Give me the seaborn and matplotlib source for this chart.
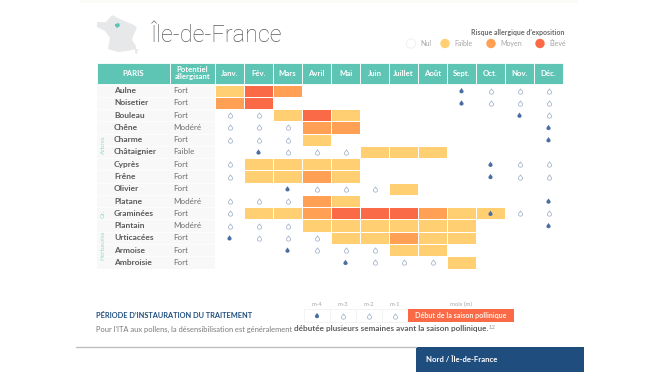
import numpy as np
import pandas as pd
import seaborn as sns
import matplotlib
matplotlib.use("Agg")
import matplotlib.pyplot as plt
from matplotlib.colors import ListedColormap
from matplotlib.patches import Rectangle, Polygon, Circle
from matplotlib.path import Path

months = ["Janv.", "Fév.", "Mars", "Avril", "Mai", "Juin", "Juillet", "Août", "Sept.", "Oct.", "Nov.", "Déc."]
species = ["Aulne", "Noisetier", "Bouleau", "Chêne", "Charme", "Châtaignier", "Cyprès", "Frêne",
           "Olivier", "Platane", "Graminées", "Plantain", "Urticacées", "Armoise", "Ambroisie"]
potentials = ["Fort", "Fort", "Fort", "Modéré", "Fort", "Faible", "Fort", "Fort",
              "Fort", "Modéré", "Fort", "Modéré", "Fort", "Fort", "Fort"]

# 0 nul, 1 faible, 2 moyen, 3 eleve
risk = [
    [1, 3, 2, 0, 0, 0, 0, 0, 0, 0, 0, 0],
    [2, 3, 0, 0, 0, 0, 0, 0, 0, 0, 0, 0],
    [0, 0, 1, 3, 1, 0, 0, 0, 0, 0, 0, 0],
    [0, 0, 0, 2, 2, 0, 0, 0, 0, 0, 0, 0],
    [0, 0, 0, 1, 0, 0, 0, 0, 0, 0, 0, 0],
    [0, 0, 0, 0, 0, 1, 1, 1, 0, 0, 0, 0],
    [0, 1, 1, 1, 1, 0, 0, 0, 0, 0, 0, 0],
    [0, 1, 1, 2, 1, 0, 0, 0, 0, 0, 0, 0],
    [0, 0, 0, 0, 0, 0, 1, 0, 0, 0, 0, 0],
    [0, 0, 0, 2, 1, 0, 0, 0, 0, 0, 0, 0],
    [0, 1, 1, 2, 3, 3, 3, 2, 1, 1, 0, 0],
    [0, 0, 0, 1, 1, 1, 1, 1, 1, 0, 0, 0],
    [0, 0, 0, 0, 1, 1, 2, 1, 1, 0, 0, 0],
    [0, 0, 0, 0, 0, 0, 1, 1, 0, 0, 0, 0],
    [0, 0, 0, 0, 0, 0, 0, 0, 1, 0, 0, 0],
]

# month index of the treatment drops for each species
filled_drops = [[8], [8], [10], [11], [11], [1], [9], [9], [2], [11], [9], [11], [0], [2], [4]]
empty_drops = [
    [9, 10, 11], [9, 10, 11], [0, 1, 11], [0, 1, 2], [0, 1, 2], [2, 3, 4], [0, 10, 11], [0, 10, 11],
    [3, 4, 5], [0, 1, 2], [0, 10, 11], [0, 1, 2], [1, 2, 3], [3, 4, 5], [5, 6, 7],
]

legend_labels = ["Nul", "Faible", "Moyen", "Élevé"]
pre_season = ["m-4", "m-3", "m-2", "m-1"]

TEAL = "#5EC4B4"
COLORS = ["#FFCF72", "#FFA055", "#FA6A47"]
BLUE = "#1F4E7E"
DROP_DARK = "#4A6EA3"
DROP_LIGHT = "#A8B8CE"
TXT = "#6E6E6E"

sns.set_theme(style="white")
plt.rcParams["font.family"] = ["Lato", "DejaVu Sans"]

W, H = 660, 378
fig = plt.figure(figsize=(W / 100, H / 100), dpi=100, facecolor="white")

# page layer in pixel units
page = fig.add_axes([0, 0, 1, 1])
page.set_xlim(0, W)
page.set_ylim(H, 0)
page.axis("off")

# drop shaped marker
drop = Path([(0, 1), (0.2, 0.55), (0.78, 0.15), (0.78, -0.35), (0.78, -0.75), (0.4, -1), (0, -1),
             (-0.4, -1), (-0.78, -0.75), (-0.78, -0.35), (-0.78, 0.15), (-0.2, 0.55), (0, 1)],
            [Path.MOVETO] + [Path.CURVE4] * 12)

# faint cut off line at the top of the page
page.add_patch(Rectangle((80, 0), 498, 3, fc="#FBFAF6", ec="none"))

# France map
france = [(97, 22), (106, 22), (112, 15), (122, 20), (134, 25), (137, 28), (133, 36), (132, 40), (136, 46),
          (136, 49), (127, 51), (118, 52), (108, 49), (110, 38), (105, 31), (97, 27)]
page.add_patch(Polygon(france, closed=True, fc="#E7E8EA", ec="none"))
page.add_patch(Polygon([(135, 49), (138, 49), (137, 54), (135, 53)], closed=True, fc="#E7E8EA", ec="none"))
page.add_patch(Polygon([(115, 24), (119, 23), (120, 26), (117, 28), (115, 26)], closed=True, fc=TEAL, ec="none"))

page.text(151, 35, "Île-de-France", fontsize=16.9, family="Roboto", fontweight="light", color="#5A5F63", va="center")

# legend
page.text(564, 32, "Risque allergique d’exposition", fontsize=5, fontweight="bold", color="#6A6A6A",
          ha="right", va="center")
legend_x = [411, 445, 491, 540]
legend_fc = ["white"] + COLORS
for lx, lab, fc in zip(legend_x, legend_labels, legend_fc):
    page.add_patch(Circle((lx, 43.5), 4.7, fc=fc, ec="#EEEEEE" if fc == "white" else "none", lw=0.6))
    page.text(lx + 9.5, 43.5, lab, fontsize=5, color="#A5A5A5", va="center")

# table header
header_cells = [(97, 170, "PARIS"), (170, 215, "Potentiel\nallergisant")]
for i, m in enumerate(months):
    header_cells.append((215 + i * 29, 215 + (i + 1) * 29, m))
for x0, x1, lab in header_cells:
    page.add_patch(Rectangle((x0, 62.5), x1 - x0, 21.5, fc=TEAL, ec="white", lw=0.6))
    page.text((x0 + x1) / 2, 73.2, lab, fontsize=5.6, fontweight="bold", color="white",
              ha="center", va="center", linespacing=1.05)

# left part of the table
row_h = 184 / len(species)
page.add_patch(Rectangle((97, 84.5), 118, 184, fc="#F8F8F8", ec="none"))
for i, (name, pot) in enumerate(zip(species, potentials)):
    y = 84.5 + (i + 0.5) * row_h
    page.plot([97, 215], [84.5 + i * row_h] * 2, color="white", lw=0.5)
    page.text(114, y, name, fontsize=6, fontweight="bold", color="#5A5A5A", va="center")
    page.text(173, y, pot, fontsize=5.8, color=TXT, va="center")
for lab, y in [("Arbres", 145), ("Gr.", 213.5), ("Herbacées", 245)]:
    page.text(103, y, lab, fontsize=4.5, color="#9AD9CE", rotation=90, ha="center", va="center")

# heatmap
df = pd.DataFrame(risk, index=species, columns=months)
ax = fig.add_axes([215 / W, 1 - 268.5 / H, 348 / W, 184 / H])
sns.heatmap(df, mask=df == 0, cmap=ListedColormap(COLORS), vmin=0.5, vmax=3.5, cbar=False,
            linewidths=0.6, linecolor="white", ax=ax, xticklabels=False, yticklabels=False)
ax.patch.set_alpha(0)
ax.tick_params(left=False, bottom=False)
for row, cols in enumerate(empty_drops):
    for c in cols:
        ax.scatter(c + 0.5, row + 0.5, marker=drop, s=15, facecolor="white", edgecolor=DROP_LIGHT, lw=0.6, zorder=5)
for row, cols in enumerate(filled_drops):
    for c in cols:
        ax.scatter(c + 0.5, row + 0.5, marker=drop, s=15, facecolor=DROP_DARK, edgecolor="none", zorder=5)

# treatment row
page.text(96, 315, "PÉRIODE D’INSTAURATION DU TRAITEMENT", fontsize=5.35, fontweight="bold", color=BLUE, va="center")
for i, lab in enumerate(pre_season):
    x0 = 304 + i * 26
    page.text(x0 + 13, 304.5, lab, fontsize=4.3, color="#A8A8A8", ha="center", va="center")
    page.add_patch(Rectangle((x0, 309), 26, 13, fc="white", ec="#F3F3F3", lw=0.6))
    if i == 0:
        page.scatter(x0 + 13, 315.5, marker=drop, s=15, facecolor=DROP_DARK, edgecolor="none")
    else:
        page.scatter(x0 + 13, 315.5, marker=drop, s=15, facecolor="white", edgecolor=DROP_LIGHT, lw=0.6)
page.text(461, 304.5, "mois (m)", fontsize=4.3, color="#A8A8A8", ha="center", va="center")
page.add_patch(Rectangle((408, 309), 106, 13, fc="#FA6A47", ec="none"))
page.text(461, 315.5, "Début de la saison pollinique", fontsize=5.1, fontweight="bold", color="#FFF3E8",
          ha="center", va="center")

page.text(96, 329, "Pour l’ITA aux pollens, la désensibilisation est généralement", fontsize=5.45, color="#7A7A7A", va="center")
page.text(294, 329, "débutée plusieurs semaines avant la saison pollinique.", fontsize=5.85, fontweight="bold",
          color="#5F5F5F", va="center")
page.text(488.5, 327, "1,2", fontsize=3.4, color="#8A8A8A", va="center")

# footer
page.plot([76, 416], [347.3, 347.3], color="#BDBDBD", lw=1)
page.add_patch(Rectangle((416, 347), 168, 24.5, fc=BLUE, ec="none"))
page.text(426, 359.5, "Nord / Île-de-France", fontsize=5.6, fontweight="bold", color="white", va="center")

fig.savefig("out.png", dpi=100)
